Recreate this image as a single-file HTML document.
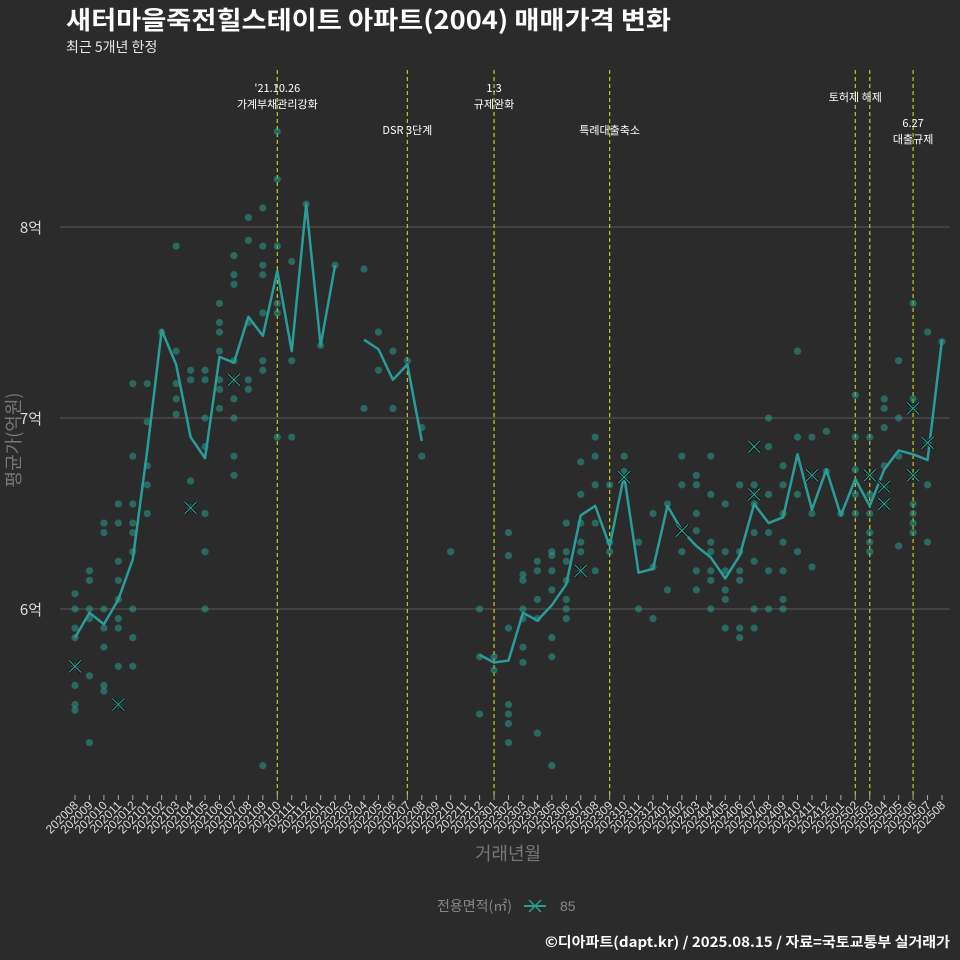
<!DOCTYPE html>
<html><head><meta charset="utf-8">
<style>
body{margin:0;background:#2b2b2b;width:960px;height:960px;overflow:hidden;font-family:"Liberation Sans","Noto Sans CJK KR",sans-serif;}
svg{display:block}
.kr{font-family:"Noto Sans CJK KR","Liberation Sans",sans-serif;}
</style></head>
<body>
<svg id="chart" width="960" height="960" xmlns="http://www.w3.org/2000/svg" font-family="Liberation Sans, Noto Sans CJK KR, sans-serif">
<rect width="960" height="960" fill="#2b2b2b"/>
<text class="kr" x="66" y="29" fill="#ffffff" font-size="25" font-weight="bold" textLength="605" lengthAdjust="spacingAndGlyphs">새터마을죽전힐스테이트 아파트(2004) 매매가격 변화</text>
<text class="kr" x="66" y="52" fill="#e8e8e8" font-size="14">최근 5개년 한정</text>
<g id="grid"></g><g id="vlines"></g><g id="points"></g><g id="line"></g><g id="xmarks"></g><g id="xaxis"></g>
<text class="kr" x="31" y="233" fill="#dddddd" font-size="15" text-anchor="middle">8억</text>
<text class="kr" x="31" y="424" fill="#dddddd" font-size="15" text-anchor="middle">7억</text>
<text class="kr" x="31" y="615" fill="#dddddd" font-size="15" text-anchor="middle">6억</text>
<text class="kr" transform="translate(20,440) rotate(-90)" fill="#777777" font-size="18" text-anchor="middle">평균가(억원)</text>
<text class="kr" x="508" y="860" fill="#777777" font-size="18" text-anchor="middle">거래년월</text>
<g>
<text class="kr" x="437" y="911" fill="#888888" font-size="14">전용면적(㎡)</text>
<line x1="524" y1="906" x2="546" y2="906" stroke="#2a9d8f" stroke-width="2"/>
<path d="M529 900 L541 912 M541 900 L529 912" stroke="#2a9d8f" stroke-width="1.5"/>
<text x="560" y="911" fill="#888888" font-size="14">85</text>
</g>
<text class="kr" x="950" y="947" fill="#ffffff" font-size="14" font-weight="bold" text-anchor="end" textLength="405" lengthAdjust="spacingAndGlyphs">©디아파트(dapt.kr) / 2025.08.15 / 자료=국토교통부 실거래가</text>
</svg>
<script>
const months=[];for(let y=2020,m=8;months.length<61;){months.push(y+String(m).padStart(2,'0'));m++;if(m>12){m=1;y++;}}
const meanIdx=[0,1,2,3,4,5,6,7,8,9,10,11,12,13,14,15,16,17,18,null,20,21,22,23,24,null,null,null,28,29,30,31,32,33,34,35,36,37,38,39,40,41,42,43,44,45,46,47,48,49,50,51,52,53,54,55,56,57,58,59,60];
const meanVals=[5.85,5.98,5.92,6.05,6.26,6.83,7.46,7.28,6.9,6.79,7.32,7.29,7.53,7.43,7.77,7.35,8.12,7.38,7.8,null,7.41,7.36,7.2,7.28,6.88,null,null,null,5.76,5.72,5.73,5.98,5.94,6.02,6.13,6.49,6.54,6.33,6.7,6.19,6.21,6.54,6.41,6.33,6.27,6.16,6.28,6.55,6.45,6.48,6.81,6.52,6.73,6.49,6.68,6.54,6.73,6.83,6.81,6.78,7.41];
const dealMonth=[0,0,0,0,0,0,0,0,1,1,1,1,1,1,2,2,2,2,2,2,2,3,3,3,3,3,3,3,3,3,4,4,4,4,4,4,4,4,4,5,5,5,5,5,6,7,7,7,7,7,8,8,8,8,9,9,9,9,9,9,9,10,10,10,10,10,10,10,11,11,11,11,11,11,11,11,11,12,12,12,12,12,13,13,13,13,13,13,13,13,14,14,14,14,14,14,15,15,15,16,17,18,20,20,21,21,22,22,23,24,24,26,28,28,28,29,29,30,30,30,30,30,30,30,31,31,31,31,31,31,32,32,32,32,32,33,33,33,33,33,33,33,34,34,34,34,34,34,34,35,35,35,35,35,35,36,36,36,36,36,37,37,37,38,38,38,39,39,40,40,40,41,41,42,42,42,43,43,43,43,43,43,44,44,44,44,44,44,44,45,45,45,45,45,45,46,46,46,46,46,46,47,47,47,47,47,47,47,48,48,48,48,48,48,49,49,49,49,49,49,49,50,50,50,50,51,51,51,51,52,52,53,54,54,54,54,54,55,55,55,55,55,55,55,56,56,56,56,56,56,57,57,57,57,58,58,58,58,58,58,58,58,59,59,59,59,60];
const dealVals=[6.08,6.0,5.9,5.85,5.7,5.6,5.5,5.47,6.2,6.15,6.0,5.95,5.65,5.3,6.45,6.4,6.0,5.9,5.8,5.6,5.57,6.55,6.45,6.25,6.15,6.05,5.95,5.9,5.7,5.5,7.18,6.8,6.55,6.45,6.4,6.3,6.0,5.85,5.7,7.18,6.98,6.75,6.65,6.5,7.45,7.9,7.35,7.18,7.1,7.02,7.25,7.2,6.67,6.53,7.25,7.2,7.0,6.85,6.5,6.3,6.0,7.6,7.5,7.45,7.35,7.2,7.15,7.05,7.85,7.75,7.7,7.3,7.2,7.1,7.0,6.8,6.7,8.05,7.93,7.5,7.2,7.15,8.1,7.9,7.8,7.75,7.55,7.3,7.25,5.18,8.5,8.25,7.9,7.6,7.55,6.9,7.82,7.3,6.9,8.12,7.38,7.8,7.78,7.05,7.45,7.25,7.35,7.05,7.3,6.95,6.8,6.3,6.0,5.75,5.45,5.75,5.68,6.4,6.28,5.9,5.5,5.45,5.4,5.3,6.18,6.15,6.0,5.95,5.8,5.72,6.25,6.2,6.05,5.95,5.35,6.3,6.28,6.2,6.1,5.85,5.75,5.18,6.45,6.3,6.25,6.15,6.05,6.0,5.95,6.77,6.6,6.45,6.35,6.3,6.2,6.9,6.8,6.65,6.45,6.2,6.65,6.35,6.3,6.8,6.72,6.69,6.35,6.0,6.5,6.22,5.95,6.55,6.1,6.8,6.65,6.3,6.7,6.65,6.5,6.41,6.2,6.1,6.8,6.6,6.35,6.3,6.2,6.15,6.0,6.55,6.3,6.2,6.1,6.05,5.9,6.65,6.3,6.2,6.15,5.9,5.85,6.65,6.6,6.55,6.4,6.25,6.0,5.9,7.0,6.85,6.6,6.4,6.2,6.0,6.75,6.65,6.5,6.35,6.2,6.05,6.0,7.35,6.9,6.6,6.3,6.9,6.7,6.5,6.22,6.93,6.72,6.5,7.12,6.9,6.73,6.6,6.5,6.9,6.7,6.6,6.5,6.4,6.35,6.3,7.1,7.05,6.95,6.75,6.64,6.55,7.3,7.0,6.8,6.33,7.6,7.1,7.05,6.7,6.55,6.5,6.45,6.4,7.45,6.87,6.65,6.35,7.4];
const xMarkMonth=[0,3,8,11,35,38,42,47,47,51,55,56,56,58,58,59];
const xMarkVals=[5.7,5.5,6.53,7.2,6.2,6.69,6.41,6.85,6.6,6.7,6.7,6.64,6.55,7.05,6.7,6.87];
const eventMonth=[14,23,29,37,54,55,58];
const eventLabels=[["'21.10.26","가계부채관리강화"],["DSR 3단계"],["1.3","규제완화"],["특례대출축소"],["토허제 해제"],[],["6.27","대출규제"]];
const gridVals=[6,7,8];
const NS="http://www.w3.org/2000/svg";
const xS=i=>75+14.45*i;
const yS=v=>609-(v-6)*191;
function mk(tag,attrs,parent){const e=document.createElementNS(NS,tag);for(const k in attrs)e.setAttribute(k,attrs[k]);document.getElementById(parent).appendChild(e);return e;}
gridVals.forEach(v=>{const l=mk('line',{x1:60,x2:950,y1:yS(v),y2:yS(v),stroke:'#5a5a5a','stroke-width':1},'grid');

});
const annY=[[92,108],[134],[92,108],[134],[101],[],[127,143]];
eventMonth.forEach((m,k)=>{const l=mk('line',{x1:xS(m),x2:xS(m),y1:70,y2:795,stroke:'#c8c820','stroke-width':1.2,'stroke-dasharray':'4,3'},'vlines');


eventLabels[k].forEach((s,j)=>{const t=mk('text',{x:xS(m),y:annY[k][j],fill:'#ffffff','font-size':11,'text-anchor':'middle','class':'kr'},'vlines');t.textContent=s;

});});
dealVals.forEach((v,k)=>{const c=mk('circle',{cx:xS(dealMonth[k]),cy:yS(v),r:3.6,fill:'#2a9d8f','fill-opacity':0.55},'points');

});
let seg=[];const segs=[];meanVals.forEach((v,k)=>{if(v==null){if(seg.length)segs.push(seg);seg=[];}else seg.push([xS(meanIdx[k]),yS(v)]);});if(seg.length)segs.push(seg);
segs.forEach(s=>{const p=mk('polyline',{points:s.map(q=>q.join(',')).join(' '),fill:'none',stroke:'#2a9d9a','stroke-width':2.5,'stroke-linejoin':'round'},'line');

});
xMarkVals.forEach((v,k)=>{const x=xS(xMarkMonth[k]),y=yS(v);const p=mk('path',{d:`M${x-6} ${y-6}L${x+6} ${y+6}M${x+6} ${y-6}L${x-6} ${y+6}`,stroke:'#0d0d0d','stroke-width':3},'xmarks');


const p2=mk('path',{d:`M${x-6} ${y-6}L${x+6} ${y+6}M${x+6} ${y-6}L${x-6} ${y+6}`,stroke:'#2a9d8f','stroke-width':1.2},'xmarks');

});
months.forEach((m,i)=>{const x=xS(i);const tk=mk('line',{x1:x,x2:x,y1:795,y2:800,stroke:'#aaaaaa'},'xaxis');


const t=mk('text',{transform:`translate(${x+4},${806}) rotate(-45)`,fill:'#dddddd','font-size':12,'text-anchor':'end'},'xaxis');t.textContent=m;

});
</script>
</body></html>
